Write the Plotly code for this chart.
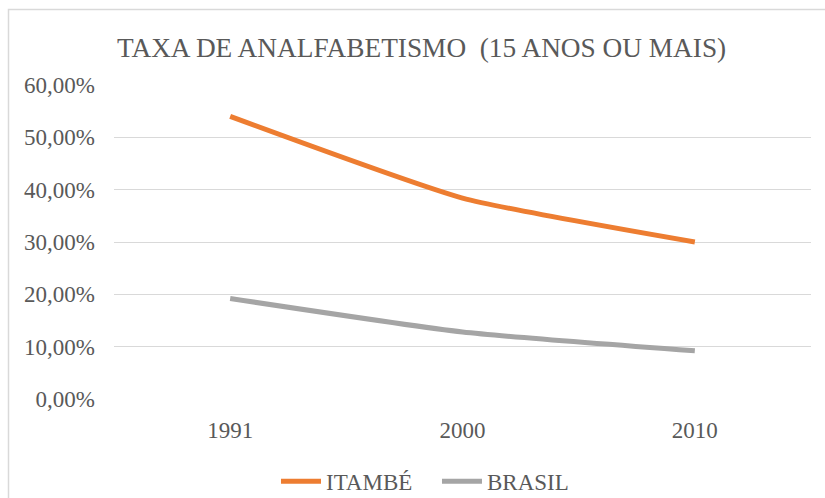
import plotly.graph_objects as go

anos = ["1991", "2000", "2010"]
itambe = [0.540, 0.384, 0.300]
brasil = [0.192, 0.128, 0.092]
y_ticks = [0, 0.1, 0.2, 0.3, 0.4, 0.5, 0.6]
y_labels = ["0,00%", "10,00%", "20,00%", "30,00%", "40,00%", "50,00%", "60,00%"]

fig = go.Figure()
fig.add_trace(go.Scatter(x=anos, y=itambe, name="ITAMBÉ", mode="lines",
                         line=dict(color="#ED7D31", width=5, shape="spline", smoothing=0.5)))
fig.add_trace(go.Scatter(x=anos, y=brasil, name="BRASIL", mode="lines",
                         line=dict(color="#A5A5A5", width=5, shape="spline", smoothing=0.5)))

font_family = "Liberation Serif, Times New Roman, serif"
fig.update_layout(
    width=825, height=498,
    margin=dict(l=114, r=14, t=85, b=99, autoexpand=False),
    paper_bgcolor="white", plot_bgcolor="white",
    font=dict(family=font_family, color="#595959", size=23),
    title=dict(text="TAXA DE ANALFABETISMO  (15 ANOS OU MAIS)", x=0.511, xanchor="center",
               y=1 - 47 / 498, yanchor="middle",
               font=dict(family=font_family, size=27.3, color="#595959")),
    showlegend=True,
    legend=dict(orientation="h", x=0.4634, xanchor="center", y=-0.262, yanchor="middle",
                font=dict(family=font_family, size=23, color="#595959"),
                itemwidth=40, entrywidth=106, traceorder="normal"),
    xaxis=dict(type="category", range=[-0.5, 2.5], showgrid=False, zeroline=False,
               showline=False, ticks="", tickfont=dict(family=font_family, size=23),
               ticklabelstandoff=15),
    yaxis=dict(range=[0, 0.6], tickvals=y_ticks, ticktext=y_labels, showgrid=True,
               gridcolor="#D9D9D9", gridwidth=1.3, zeroline=False, showline=False,
               ticks="", tickfont=dict(family=font_family, size=23), ticklabelstandoff=18),
)
# outer chart frame (partly off-canvas)
fig.add_shape(type="rect", xref="paper", yref="paper",
              x0=(8.5 - 114) / 697, x1=(840 - 114) / 697,
              y0=(399 - 510) / 314, y1=(399 - 9.5) / 314,
              line=dict(color="#D9D9D9", width=1.5), fillcolor="rgba(0,0,0,0)", layer="below")

fig.write_html("out.html", config={"displayModeBar": False},
               post_script="document.body.style.margin='0';document.body.style.padding='0';")
